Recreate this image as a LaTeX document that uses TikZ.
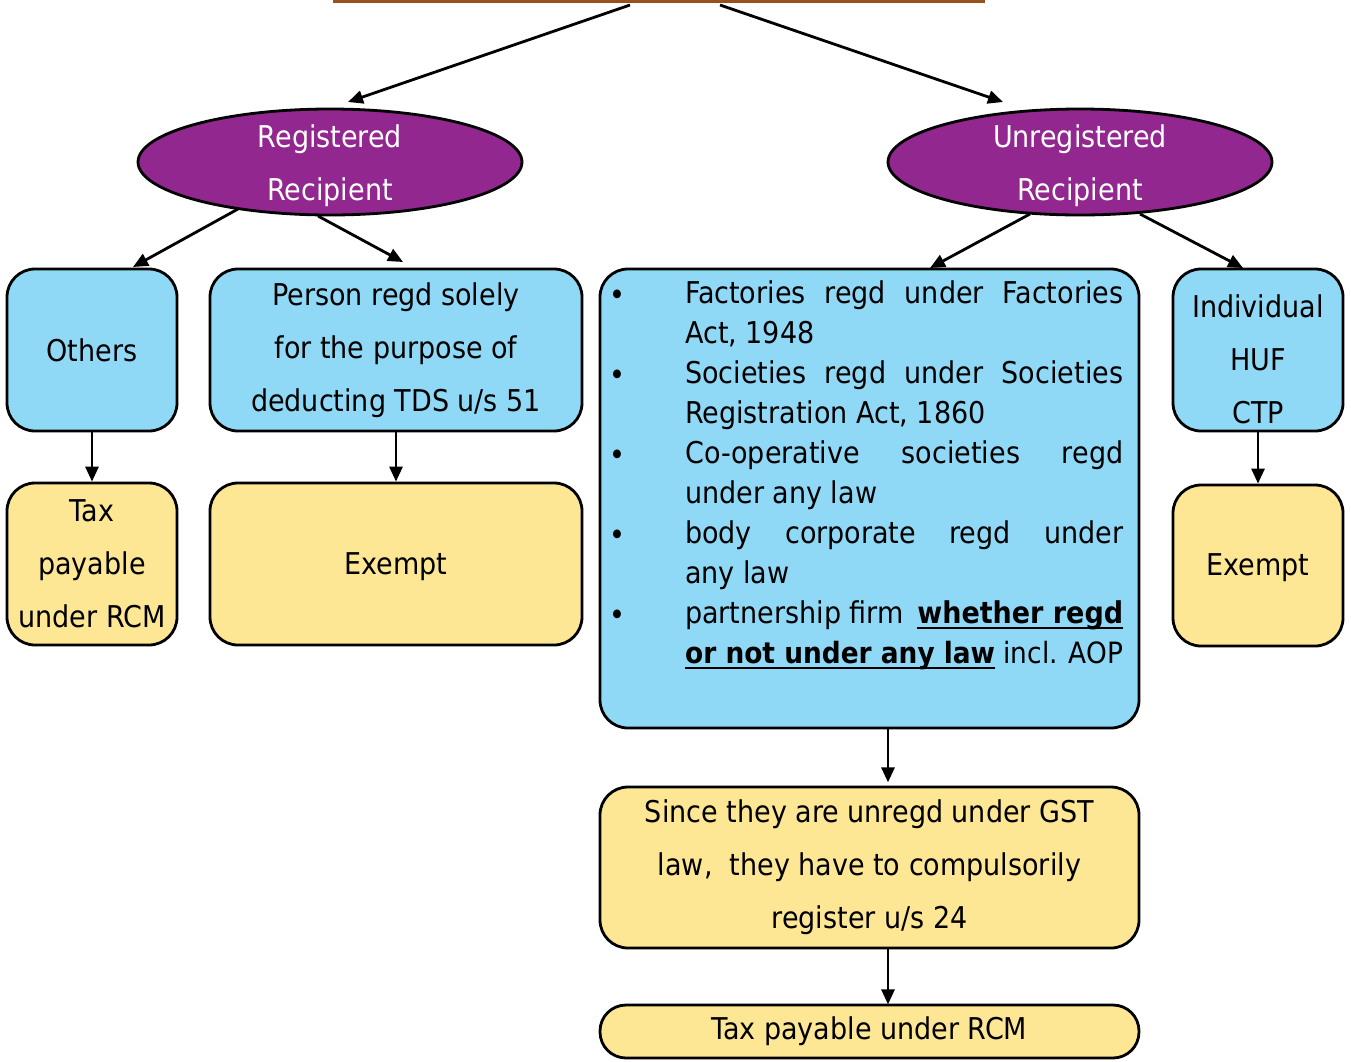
\documentclass[tikz,border=0pt]{standalone}
\usepackage{fontspec}
\setmainfont{DejaVu Sans Condensed}
\usetikzlibrary{shapes.geometric,arrows.meta}
\definecolor{boxblue}{HTML}{8FD9F7}
\definecolor{boxyellow}{HTML}{FDE795}
\definecolor{ellpurple}{HTML}{92278F}
\definecolor{topbrown}{HTML}{99501F}
\newcommand{\myul}[1]{\setbox0\hbox{#1}\rlap{\rule[-6pt]{\wd0}{2.4pt}}\box0\relax}
\newcommand{\jline}[1]{\hbox to 438pt{#1}}
\begin{document}
\begin{tikzpicture}[x=1pt,y=-1pt,
  font=\fontsize{30}{53}\selectfont,
  box/.style={draw=black, line width=2.8pt, rounded corners=28pt, inner sep=0pt, align=center},
  bluebox/.style={box, fill=boxblue},
  yelbox/.style={box, fill=boxyellow},
  ell/.style={ellipse, draw=black, line width=2.8pt, fill=ellpurple, inner sep=0pt, minimum width=384pt, minimum height=106pt},
  elltext/.style={text=white, inner sep=0pt, align=center},
  conn/.style={line width=2.8pt, -{Triangle[length=15pt,width=13pt]}},
  itemline/.style={anchor=base west, inner sep=0pt},
  bul/.style={anchor=base, inner sep=0pt}
]
\useasboundingbox (0,0) rectangle (1351,1061);
% top cut-off box edge
\fill[topbrown] (333,0) rectangle (985,2.5);
\coordinate (topL) at (630,5);
\coordinate (topR) at (720,5);

\node[ell] (reg) at (330,162) {};
\node[elltext] (regtxt) at (330,166) {Registered\\Recipient};
\node[ell] (unreg) at (1080,162) {};
\node[elltext] (unregtxt) at (1080,166) {Unregistered\\Recipient};

\node[bluebox, minimum width=170pt, minimum height=162pt] (others) at (92,350) {Others};
\node[bluebox, minimum width=372pt, minimum height=162pt] (person) at (396,350) {Person regd solely\\for the purpose of\\deducting TDS u/s 51};
\node[yelbox, minimum width=170pt, minimum height=162pt] (taxl) at (92,564) {Tax\\payable\\under RCM};
\node[yelbox, minimum width=372pt, minimum height=162pt] (exl) at (396,564) {};
\node[inner sep=0pt] (exltxt) at (396,567) {Exempt};

\node[bluebox, minimum width=539pt, minimum height=459pt] (list) at (869.5,498.5) {};
\node[bluebox, minimum width=170pt, minimum height=162pt] (indiv) at (1258,350) {};
\node[inner sep=0pt, align=center] (indivtxt) at (1258,359) {Individual\\HUF\\CTP};
\node[yelbox, minimum width=170pt, minimum height=161pt] (exr) at (1258,565.5) {};
\node[inner sep=0pt] (exrtxt) at (1258,568) {Exempt};

\node[yelbox, minimum width=539pt, minimum height=161pt] (since) at (869.5,867.5) {Since they are unregd under GST\\law,\ \ they have to compulsorily\\register u/s 24};
\node[yelbox, rounded corners=26pt, minimum width=539pt, minimum height=53pt] (taxb) at (869.5,1031.5) {Tax payable under RCM};

% list contents
\node[bul] (b1) at (617,305) {•};
\node[bul] (b2) at (617,385) {•};
\node[bul] (b3) at (617,465) {•};
\node[bul] (b4) at (617,545) {•};
\node[bul] (b5) at (617,625) {•};
\node[itemline] (l1) at (685,303) {\jline{Factories\hfill regd\hfill under\hfill Factories}};
\node[itemline] (l2) at (685,343) {Act, 1948};
\node[itemline] (l3) at (685,383) {\jline{Societies\hfill regd\hfill under\hfill Societies}};
\node[itemline] (l4) at (685,423) {Registration Act, 1860};
\node[itemline] (l5) at (685,463) {\jline{Co-operative\hfill societies\hfill regd}};
\node[itemline] (l6) at (685,503) {under any law};
\node[itemline] (l7) at (685,543) {\jline{body\hfill corporate\hfill regd\hfill under}};
\node[itemline] (l8) at (685,583) {any law};
\node[itemline] (l9) at (685,623) {\jline{partnership firm\hfill\myul{\textbf{whether regd}}}};
\node[itemline] (l10) at (685,663) {\resizebox{438pt}{!}{\myul{\textbf{or not under any law}} incl. AOP}};

% connectors
\draw[conn] (topL) -- (348,102);
\draw[conn] (topR) -- (1003,102);
\draw[conn] (238,209) -- (133,267);
\draw[conn] (318,216) -- (403,262);
\draw[conn] (1030,214) -- (930,268);
\draw[conn] (1140,214) -- (1243,268);
\draw[conn] (others.south) -- (taxl.north);
\draw[conn] (person.south) -- (exl.north);
\draw[conn] (indiv.south) -- (exr.north);
\draw[conn] (list.south) ++(18.5,0) -- ++(0,53);
\draw[conn] (since.south) ++(18.5,0) -- ++(0,55);
\end{tikzpicture}
\end{document}
